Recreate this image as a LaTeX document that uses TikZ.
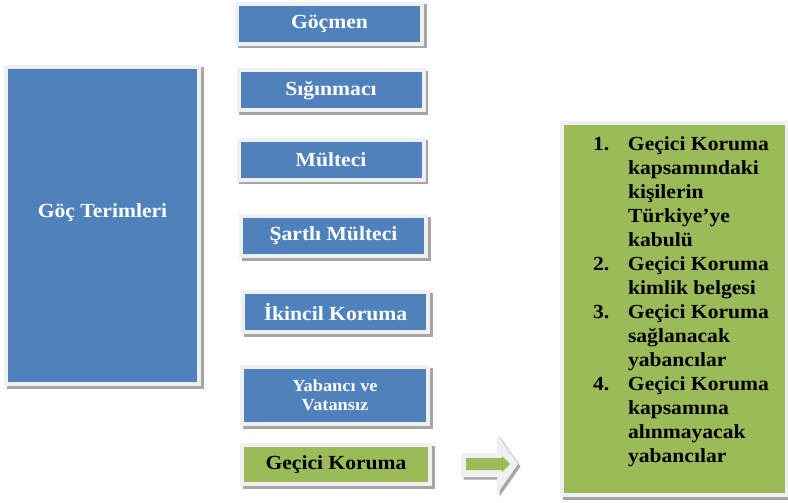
\documentclass[tikz,border=0pt]{standalone}
\usepackage{fontspec}
\setmainfont{Liberation Serif}[FakeStretch=1.08]
\usepackage{xcolor}
\definecolor{termblue}{HTML}{4F81BD}
\definecolor{termgreen}{HTML}{9BBB59}
\definecolor{framegray}{HTML}{F0F0F0}
\definecolor{shadegray}{HTML}{A6A6A6}

\begin{document}
\begin{tikzpicture}[
		x=1pt, y=-1pt,
		framed/.style={
			preaction={draw=shadegray, fill=shadegray, line width=8pt, transform canvas={xshift=2.5pt, yshift=-2.5pt}},
			preaction={draw=framegray, line width=8pt}},
		term/.style={framed, rectangle, fill=termblue, text=white, inner sep=0pt,
			font=\bfseries\fontsize{20}{24}\selectfont, minimum width=181pt, minimum height=36pt},
		greenterm/.style={term, fill=termgreen, text=black}]
		\useasboundingbox (0,0) rectangle (788,503);
		\node[term, minimum width=189pt, minimum height=313pt] (terms) at (102.5,225.5) {\raisebox{8pt}[0pt][0pt]{Göç Terimleri}};
		\node[term] (gocmen) at (329.5,24) {Göçmen};
		\node[term] (siginmaci) at (331,90.5) {Sığınmacı};
		\node[term] (multeci) at (331,159.5) {Mülteci};
		\node[term] (sartli) at (333.5,236) {Şartlı Mülteci};
		\node[term] (ikincil) at (335.5,312) {İkincil Koruma};
		\node[term, minimum width=182pt, minimum height=53pt, align=center,
			font=\bfseries\fontsize{17}{19}\selectfont] (yabanci) at (335,395.5) {Yabancı ve\\Vatansız};
		\node[greenterm, minimum width=184pt, minimum height=35pt] (gecici) at (336,464.5) {Geçici Koruma};
		\node[greenterm] (kapsam) at (674.5,309) {\parbox[c][368pt][t]{221pt}{\vspace*{9pt}\hspace*{29pt}\begin{tabular}{@{}p{35pt}@{}l@{}}
				1. & Geçici Koruma\\
				   & kapsamındaki\\
				   & kişilerin\\
				   & Türkiye’ye\\
				   & kabulü\\
				2. & Geçici Koruma\\
				   & kimlik belgesi\\
				3. & Geçici Koruma\\
				   & sağlanacak\\
				   & yabancılar\\
				4. & Geçici Koruma\\
				   & kapsamına\\
				   & alınmayacak\\
				   & yabancılar
			\end{tabular}}};
		\fill[shadegray, transform canvas={xshift=2.5pt, yshift=-2.5pt}] (461,453) -- (497,453) -- (497,434) -- (518,464) -- (497,494) -- (497,477) -- (461,477) -- cycle;
		\fill[framegray] (461,453) -- (497,453) -- (497,434) -- (518,464) -- (497,494) -- (497,477) -- (461,477) -- cycle;
		\fill[termgreen] (466,458) -- (502,458) -- (502,456) -- (510,464) -- (502,472) -- (502,470) -- (466,470) -- cycle;
\end{tikzpicture}
\end{document}
